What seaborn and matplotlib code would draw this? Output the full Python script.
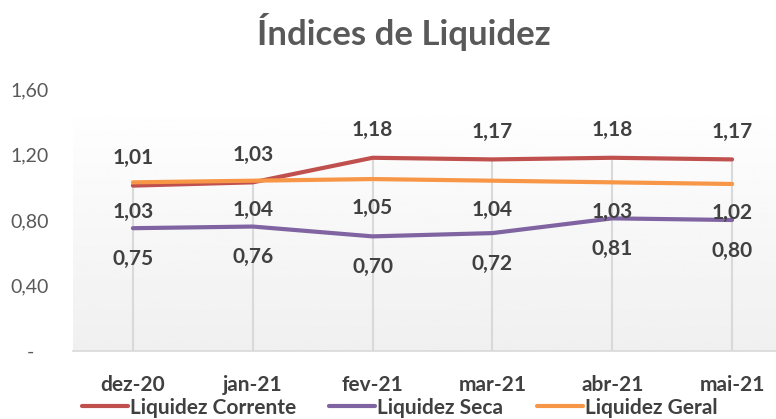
import numpy as np
import pandas as pd
import seaborn as sns
import matplotlib.pyplot as plt

# Data
months = ['dez-20', 'jan-21', 'fev-21', 'mar-21', 'abr-21', 'mai-21']
corrente = [1.01, 1.03, 1.18, 1.17, 1.18, 1.17]
seca = [0.75, 0.76, 0.70, 0.72, 0.81, 0.80]
geral = [1.03, 1.04, 1.05, 1.04, 1.03, 1.02]
series_names = ['Liquidez Corrente', 'Liquidez Seca', 'Liquidez Geral']
yticks = [0, 0.4, 0.8, 1.2, 1.6]
ytick_labels = ['-', '0,40', '0,80', '1,20', '1,60']

sns.set_style('white')
plt.rcParams['font.family'] = ['Lato', 'DejaVu Sans']

df = pd.DataFrame({'mes': months * 3,
                   'x': list(range(len(months))) * 3,
                   'valor': corrente + seca + geral,
                   'serie': [s for s in series_names for _ in months]})

colors = {'Liquidez Corrente': '#C0504D', 'Liquidez Seca': '#8064A2', 'Liquidez Geral': '#F79646'}
text_c = '#404040'

fig = plt.figure(figsize=(7.76, 4.19), dpi=100)
ax = fig.add_axes([73 / 776, 68 / 419, 719 / 776, 262 / 419])

# plot area gradient (white at top -> light gray at bottom)
grad = np.linspace(0.94, 0.995, 100).reshape(-1, 1)
ax.imshow(grad, extent=(-0.5, 5.5, 0, 1.423), aspect='auto', cmap='gray',
          vmin=0, vmax=1, origin='lower', zorder=0)

# drop lines from highest point
x = np.arange(len(months))
top = np.maximum.reduce([corrente, seca, geral])
ax.vlines(x, 0, top, color='#D9D9D9', lw=1.5, zorder=1)

sns.lineplot(data=df, x='x', y='valor', hue='serie', palette=colors, lw=3,
             ax=ax, legend=False, zorder=3)

fmt = lambda v: f'{v:.2f}'.replace('.', ',')
lab = dict(ha='center', va='center', fontsize=15, fontweight='bold', color=text_c,
           textcoords='offset points')
for i in range(len(months)):
    ax.annotate(fmt(corrente[i]), (i, corrente[i]), xytext=(0, 20), **lab)
    ax.annotate(fmt(geral[i]), (i, geral[i]), xytext=(0, -21), **lab)
    ax.annotate(fmt(seca[i]), (i, seca[i]), xytext=(0, -22), **lab)

ax.set_xlim(-0.5, 5.5)
ax.set_ylim(0, 1.6)
ax.set_yticks(yticks)
ax.set_yticklabels(ytick_labels, fontsize=14, color='#595959')
ax.set_xticks(x)
ax.set_xticklabels(months, fontsize=15, fontweight='bold', color=text_c)
ax.set_xticks(np.arange(-0.5, 6, 1), minor=True)
ax.tick_params(axis='x', which='major', length=0, pad=17)
ax.tick_params(axis='x', which='minor', length=6, color='#D9D9D9', width=1.2, direction='out')
ax.tick_params(axis='y', length=0, pad=31)
for lbl in ax.get_yticklabels():
    lbl.set_horizontalalignment('center')
ax.set_xlabel('')
ax.set_ylabel('')
for s in ['top', 'right', 'left']:
    ax.spines[s].set_visible(False)
ax.spines['bottom'].set_color('#D9D9D9')
ax.spines['bottom'].set_linewidth(1.2)

fig.suptitle('Índices de Liquidez', x=0.52, y=0.97, fontsize=25, fontweight='bold', color='#595959')

handles = [plt.Line2D([], [], color=colors[s], lw=3) for s in series_names]
fig.legend(handles, series_names, loc='center', bbox_to_anchor=(0.515, 0.027), ncol=3,
           frameon=False, handlelength=2.2, handletextpad=0.1, columnspacing=1.6,
           prop={'weight': 'bold', 'size': 15})
for t in fig.legends[0].get_texts():
    t.set_color(text_c)

fig.savefig('out.png', dpi=100)
